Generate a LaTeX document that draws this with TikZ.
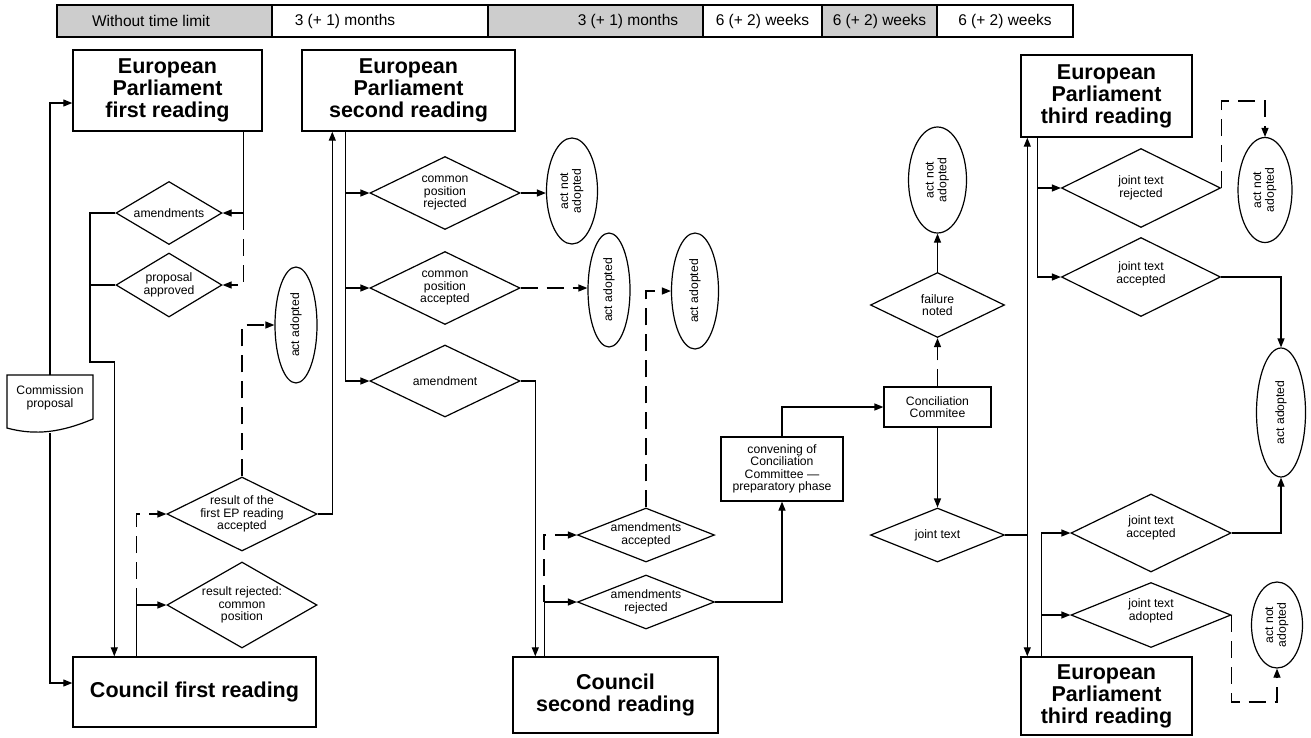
\documentclass[tikz,border=0pt]{standalone}
\usepackage{fontspec}
\setmainfont{Liberation Sans}
\usetikzlibrary{shapes.geometric,arrows.meta,calc}
\definecolor{hgray}{RGB}{205,205,205}
\newcommand\mytitle{\fontsize{21.5}{22}\selectfont\bfseries}
\newcommand\mysmall{\fontsize{12.2}{12.4}\selectfont}
\newcommand\myhead{\fontsize{15.5}{19}\selectfont}
\begin{document}
\begin{tikzpicture}[x=1pt,y=-1pt, line width=1.2pt,
  arr/.style={-{Triangle[length=9pt,width=7pt]}},
  dsh/.style={dash pattern=on 17pt off 9pt},
  box/.style={draw, rectangle, line width=1.4pt, inner sep=0pt, align=center, font=\mytitle},
  sbox/.style={draw, rectangle, line width=1.2pt, inner sep=0pt, align=center, font=\mysmall},
  dia/.style={draw, diamond, inner sep=0pt, line width=1.2pt},
  dtext/.style={align=center, font=\mysmall, inner sep=0pt},
  ell/.style={draw, ellipse, inner sep=0pt, line width=1.2pt, font=\mysmall},
  hcell/.style={draw, rectangle, minimum height=32pt, inner sep=0pt, line width=1.6pt},
  htext/.style={inner sep=0pt, font=\myhead}
]
\useasboundingbox (0,0) rectangle (1311,737);
\fill[white] (0,0) rectangle (1311,737);

% ---------- header ----------
\node[hcell, fill=hgray, minimum width=215pt] (h1) at (164.5,21) {};
\node[hcell, minimum width=216pt] (h2) at (380,21) {};
\node[hcell, fill=hgray, minimum width=215pt] (h3) at (595.5,21) {};
\node[hcell, minimum width=119pt] (h4) at (762.5,21) {};
\node[hcell, fill=hgray, minimum width=115pt] (h5) at (879.5,21) {};
\node[hcell, minimum width=136pt] (h6) at (1005,21) {};
\node[htext] (ht1) at (151,21) {Without time limit};
\node[htext] (ht2) at (345,21) {3 (+ 1) months};
\node[htext] (ht3) at (628,21) {3 (+ 1) months};
\node[htext] (ht4) at (762.5,21) {6 (+ 2) weeks};
\node[htext] (ht5) at (879.5,21) {6 (+ 2) weeks};
\node[htext] (ht6) at (1005,21) {6 (+ 2) weeks};

% ---------- boxes ----------
\node[box, minimum width=189pt, minimum height=81pt] (ep1) at (167.5,90.5) {European\\Parliament\\first reading};
\node[box, minimum width=213pt, minimum height=81pt] (ep2) at (408.5,90.5) {European\\Parliament\\second reading};
\node[box, minimum width=171pt, minimum height=82pt] (ep3t) at (1106.5,96) {European\\Parliament\\third reading};
\node[box, minimum width=171pt, minimum height=78pt] (ep3b) at (1106.5,696) {European\\Parliament\\third reading};
\node[box, minimum width=243pt, minimum height=70pt] (c1) at (194.5,692) {Council first reading};
\node[box, minimum width=205pt, minimum height=76pt] (c2) at (615.5,695) {Council\\second reading};
\node[sbox, minimum width=122pt, minimum height=64pt] (conv) at (782,469) {convening of\\Conciliation\\Committee —\\preparatory phase};
\node[sbox, minimum width=107pt, minimum height=40pt] (concil) at (937.5,407) {Conciliation\\Commitee};

% commission proposal (document shape)
\draw[line width=1.2pt] (7,375) -- (93,375) -- (93,419) .. controls (62,432) and (36,436) .. (7,428) -- cycle;
\node[dtext] (cp) at (50,398) {Commission\\proposal};
\coordinate (cptop) at (50,375);
\coordinate (cpbot) at (50,433);

% ---------- diamonds ----------
\node[dia, minimum width=106pt, minimum height=63pt] (damend) at (169,213) {};
\node[dtext] (tamend) at (damend) {amendments};
\node[dia, minimum width=106pt, minimum height=64pt] (dpropapp) at (169,285) {};
\node[dtext] (tpropapp) at (dpropapp) {proposal\\approved};
\node[dia, minimum width=150pt, minimum height=74pt] (dresacc) at (242,514) {};
\node[dtext] (tresacc) at (dresacc) {result of the\\first EP reading\\accepted};
\node[dia, minimum width=150pt, minimum height=86pt] (dresrej) at (242,605) {};
\node[dtext] (tresrej) at (dresrej) {result rejected:\\common\\position};
\node[dia, minimum width=150pt, minimum height=73pt] (dcpr) at (445,193) {};
\node[dtext] (tcpr) at (dcpr) {common\\position\\rejected};
\node[dia, minimum width=150pt, minimum height=73pt] (dcpa) at (445,288) {};
\node[dtext] (tcpa) at (dcpa) {common\\position\\accepted};
\node[dia, minimum width=150pt, minimum height=72pt] (damendm) at (445,381) {};
\node[dtext] (tamendm) at (damendm) {amendment};
\node[dia, minimum width=137pt, minimum height=54pt] (damacc) at (646,535) {};
\node[dtext] (tamacc) at (damacc) {amendments\\accepted};
\node[dia, minimum width=137pt, minimum height=54pt] (damrej) at (646,602) {};
\node[dtext] (tamrej) at (damrej) {amendments\\rejected};
\node[dia, minimum width=134pt, minimum height=65pt] (dfail) at (937.5,305) {};
\node[dtext] (tfail) at (dfail) {failure\\noted};
\node[dia, minimum width=134pt, minimum height=54pt] (djoint) at (937.5,535) {};
\node[dtext] (tjoint) at (djoint) {joint text};
\node[dia, minimum width=159pt, minimum height=79pt] (djtr) at (1141,188) {};
\node[dtext] (tjtr) at (djtr) {joint text\\rejected};
\node[dia, minimum width=159pt, minimum height=79pt] (djta1) at (1141,277) {};
\node[dtext] (tjta1) at ([yshift=3pt]djta1) {joint text\\accepted};
\node[dia, minimum width=160pt, minimum height=78pt] (djta2) at (1151,533) {};
\node[dtext] (tjta2) at ([yshift=5pt]djta2) {joint text\\accepted};
\node[dia, minimum width=160pt, minimum height=65pt] (djtad) at (1151,615) {};
\node[dtext] (tjtad) at ([yshift=4pt]djtad) {joint text\\adopted};

% ---------- ellipses ----------
\node[ell, minimum width=42pt, minimum height=116pt] (eaa1) at (296,325) {\rotatebox{90}{act adopted}};
\node[ell, minimum width=51pt, minimum height=106pt] (eana1) at (572,191) {\rotatebox{90}{\begin{tabular}{@{}c@{}}act not\\adopted\end{tabular}}};
\node[ell, minimum width=42pt, minimum height=114pt] (eaa2) at (609,290) {\rotatebox{90}{act adopted}};
\node[ell, minimum width=47pt, minimum height=116pt] (eaa3) at (695,291) {\rotatebox{90}{act adopted}};
\node[ell, minimum width=58pt, minimum height=106pt] (eana2) at (937.5,180) {\rotatebox{90}{\begin{tabular}{@{}c@{}}act not\\adopted\end{tabular}}};
\node[ell, minimum width=54pt, minimum height=105pt] (eana3) at (1265,190) {\rotatebox{90}{\begin{tabular}{@{}c@{}}act not\\adopted\end{tabular}}};
\node[ell, minimum width=49pt, minimum height=129pt] (eaa4) at (1281,412.5) {\rotatebox{90}{act adopted}};
\node[ell, minimum width=51pt, minimum height=86pt] (eana4) at (1277,625) {\rotatebox{90}{\begin{tabular}{@{}c@{}}act not\\adopted\end{tabular}}};

% ---------- connectors: first reading ----------
\draw[arr] (cptop) |- ([yshift=-12.5pt]ep1.west);
\draw[arr] (cpbot) |- ([yshift=9pt]c1.west);
\draw[arr] ([xshift=-19pt]ep1.south east) |- (damend.east);
\draw[arr,dsh] ([xshift=21pt]damend.east) |- (dpropapp.east);
\coordinate (j1) at (90,362);
\draw[arr] (damend.west) -| (j1) -| ([xshift=42pt]c1.north west);
\draw (dpropapp.west) -- (dpropapp.west -| j1);
\draw[arr] ([xshift=64pt]c1.north west) |- (dresrej.west);
\draw[arr,dsh] ([xshift=-30pt]dresrej.west) |- (dresacc.west);
\draw[arr,dsh] (dresacc.north) |- (eaa1.west);
\draw[arr] (dresacc.east) -| ([xshift=31pt]ep2.south west);

% ---------- second reading ----------
\draw[arr] ([xshift=44pt]ep2.south west) |- (damendm.west);
\draw[arr] (dcpa.west -| 346,0) -- (dcpa.west);
\draw[arr,dsh] (dcpr.west -| 346,0) -- (dcpr.west);
\draw[arr,dsh] (dcpr.east) -- (dcpr.east -| eana1.west);
\draw[arr,dsh] (dcpa.east) -- (dcpa.east -| eaa2.west);
\draw[arr] (damendm.east) -| ([xshift=23pt]c2.north west);
\draw[arr] ([xshift=32pt]c2.north west) |- (damrej.west);
\draw[arr,dsh] ([xshift=-33pt]damrej.west) |- (damacc.west);
\draw[arr,dsh] (damacc.north) |- (eaa3.west);

% ---------- conciliation ----------
\draw[arr] (damrej.east) -| (conv.south);
\draw[arr] (conv.north) |- (concil.west);
\draw[arr,dsh] (concil.north) -- (dfail.south);
\draw[arr] (dfail.north) -- (eana2.south);
\draw[arr] (concil.south) -- (djoint.north);
\draw[arr] (djoint.east) -| ([xshift=7pt]ep3t.south west);
\draw[arr] (djoint.east) -| ([xshift=7pt]ep3b.north west);

% ---------- third reading ----------
\draw[arr] ([xshift=17pt]ep3t.south west) |- (djta1.west);
\draw[arr] (djtr.west -| 1038,0) -- (djtr.west);
\draw[arr,dsh] (djtr.east) -- ++(0,-87) -| (eana3.north);
\draw[arr] (djta1.east) -| (eaa4.north);
\draw[arr] ([xshift=21pt]ep3b.north west) |- (djta2.west);
\draw[arr] (djtad.west -| 1042,0) -- (djtad.west);
\draw[arr] (djta2.east) -| (eaa4.south);
\draw[arr,dsh] (djtad.east) -- ++(0,87) -| (eana4.south);
\end{tikzpicture}
\end{document}
